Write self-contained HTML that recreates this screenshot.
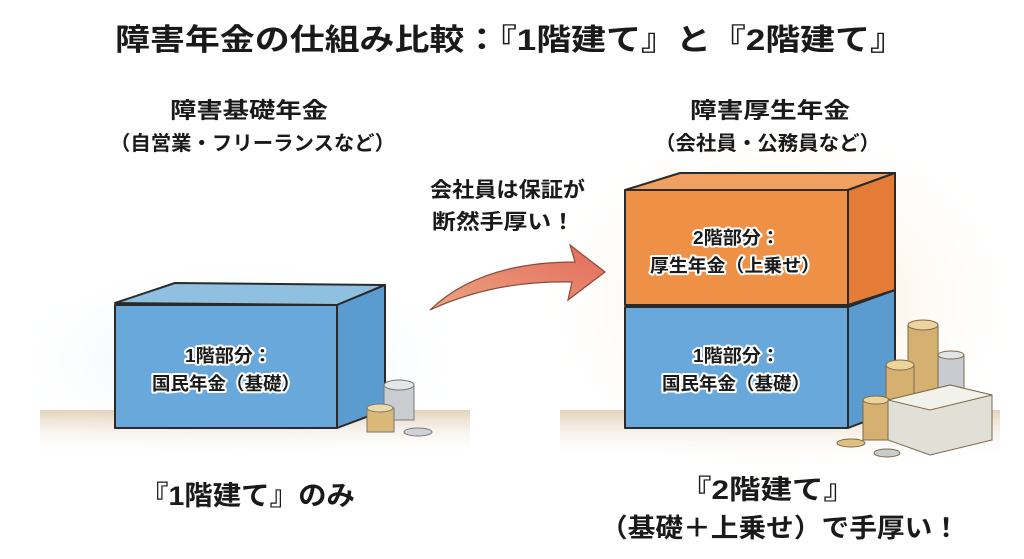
<!DOCTYPE html>
<html><head><meta charset="utf-8"><style>
html,body{margin:0;padding:0;background:#fff;}
svg{display:block}
text{font-family:"Liberation Sans","Noto Sans CJK JP",sans-serif;font-weight:bold;fill:#1a1a1a;}
.lb{paint-order:stroke;stroke:#fff;stroke-width:4px;stroke-linejoin:round;font-size:18px;}
</style></head><body>
<svg width="1024" height="559" viewBox="0 0 1024 559" xmlns="http://www.w3.org/2000/svg">
<defs>
<radialGradient id="bg1" cx="0.5" cy="0.5" r="0.5"><stop offset="0" stop-color="#d9ebf2"/><stop offset="1" stop-color="#fff" stop-opacity="0"/></radialGradient>
<radialGradient id="bg2" cx="0.5" cy="0.5" r="0.5"><stop offset="0" stop-color="#f8e3bf"/><stop offset="1" stop-color="#fff" stop-opacity="0"/></radialGradient>
<linearGradient id="gr" x1="0" y1="0" x2="0" y2="1"><stop offset="0" stop-color="#e3d2bc"/><stop offset="1" stop-color="#fff" stop-opacity="0"/></linearGradient>
<linearGradient id="ar" x1="0" y1="1" x2="1" y2="0"><stop offset="0" stop-color="#e9a583"/><stop offset="1" stop-color="#e46a5a"/></linearGradient>
</defs>
<rect width="1024" height="559" fill="#fff"/>
<ellipse cx="240" cy="360" rx="240" ry="110" fill="url(#bg1)"/>
<ellipse cx="780" cy="300" rx="250" ry="190" fill="url(#bg2)"/>
<rect x="40" y="410" width="430" height="45" fill="url(#gr)"/>
<rect x="560" y="410" width="440" height="50" fill="url(#gr)"/>
<text x="115" y="50" font-size="30" textLength="790" lengthAdjust="spacingAndGlyphs">障害年金の仕組み比較：『1階建て』と『2階建て』</text>
<text x="170" y="118" font-size="22" textLength="158" lengthAdjust="spacingAndGlyphs">障害基礎年金</text>
<text x="110" y="150" font-size="20" textLength="285" lengthAdjust="spacingAndGlyphs">（自営業・フリーランスなど）</text>
<text x="690" y="118" font-size="22" textLength="160" lengthAdjust="spacingAndGlyphs">障害厚生年金</text>
<text x="655" y="150" font-size="20" textLength="225" lengthAdjust="spacingAndGlyphs">（会社員・公務員など）</text>
<text x="430" y="197" font-size="21" textLength="155" lengthAdjust="spacingAndGlyphs">会社員は保証が</text>
<text x="432" y="229" font-size="21" textLength="143" lengthAdjust="spacingAndGlyphs">断然手厚い！</text>
<!-- arrow -->
<path d="M430 310 Q480 262 575 262 L570 245 L605 272 L568 300 L572 282 Q495 280 430 310 Z" fill="url(#ar)" stroke="#8a4a3a" stroke-width="1.2"/>
<!-- left box -->
<g stroke="#2a2a2a" stroke-width="2" stroke-linejoin="round">
<path d="M115 303 L175 283 L385 285 L337 305 Z" fill="#8fc0e0"/>
<path d="M337 305 L385 285 L385 410 L337 428 Z" fill="#5a9cd0"/>
<rect x="115" y="305" width="222" height="123" fill="#68a8da"/>
</g>
<text class="lb" x="185" y="362" textLength="87" lengthAdjust="spacingAndGlyphs">1階部分：</text>
<text class="lb" x="152" y="390" textLength="148" lengthAdjust="spacingAndGlyphs">国民年金（基礎）</text>
<!-- coins left -->
<g stroke="#777" stroke-width="1">
<rect x="384" y="385" width="30" height="35" fill="#c9ccd0"/><ellipse cx="399" cy="385" rx="15" ry="5" fill="#e4e6e8"/>
<rect x="367" y="408" width="27" height="24" fill="#d9b878"/><ellipse cx="380" cy="408" rx="13" ry="4" fill="#efd9a8"/>
<ellipse cx="418" cy="432" rx="14" ry="4" fill="#d0d3d6"/>
</g>
<!-- right boxes -->
<g stroke="#2a2a2a" stroke-width="2" stroke-linejoin="round">
<path d="M625 190 L680 173 L895 173 L848 190 Z" fill="#f0a060"/>
<path d="M848 190 L895 173 L895 290 L848 305 Z" fill="#e47c38"/>
<rect x="625" y="190" width="223" height="115" fill="#ef9047"/>
<path d="M848 307 L895 290 L895 410 L848 428 Z" fill="#5a9cd0"/>
<rect x="625" y="307" width="223" height="121" fill="#68a8da"/>
</g>
<text class="lb" x="693" y="244" textLength="87" lengthAdjust="spacingAndGlyphs">2階部分：</text>
<text class="lb" x="650" y="272" textLength="170" lengthAdjust="spacingAndGlyphs">厚生年金（上乗せ）</text>
<text class="lb" x="693" y="362" textLength="87" lengthAdjust="spacingAndGlyphs">1階部分：</text>
<text class="lb" x="662" y="390" textLength="148" lengthAdjust="spacingAndGlyphs">国民年金（基礎）</text>
<!-- coins & cash right -->
<g stroke="#7a6a4a" stroke-width="1">
<rect x="908" y="325" width="30" height="110" fill="#d6b070"/><ellipse cx="923" cy="325" rx="15" ry="5" fill="#ecd49c"/>
<rect x="938" y="355" width="26" height="50" fill="#c8cbd0"/><ellipse cx="951" cy="355" rx="13" ry="4" fill="#e2e4e6"/>
<rect x="886" y="365" width="28" height="70" fill="#d6b070"/><ellipse cx="900" cy="365" rx="14" ry="5" fill="#ecd49c"/>
<rect x="863" y="400" width="26" height="40" fill="#d6b070"/><ellipse cx="876" cy="400" rx="13" ry="4" fill="#ecd49c"/>
<path d="M888 400 L950 385 L992 395 L992 440 L930 455 L888 440 Z" fill="#e2e0d6"/>
<path d="M888 400 L950 385 L992 395 L930 410 Z" fill="#f2f1ea"/>
<ellipse cx="851" cy="443" rx="14" ry="4" fill="#e0c080"/>
<ellipse cx="887" cy="453" rx="13" ry="4" fill="#c8cbd0"/>
</g>
<text x="140" y="505" font-size="27" textLength="215" lengthAdjust="spacingAndGlyphs">『1階建て』のみ</text>
<text x="680" y="499" font-size="27" textLength="175" lengthAdjust="spacingAndGlyphs">『2階建て』</text>
<text x="600" y="537" font-size="26" textLength="360" lengthAdjust="spacingAndGlyphs">（基礎＋上乗せ）で手厚い！</text>
</svg>
</body></html>
